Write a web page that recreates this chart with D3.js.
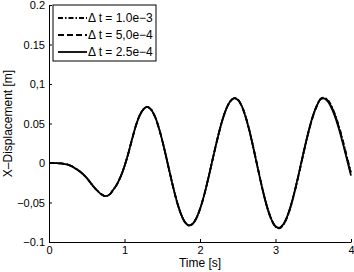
<html>
    <head>
        <meta charset="utf-8">
        <title>X-Displacement</title>
        <style type="text/css">
            body { margin: 0; background: #fff; }
            text { font-family: "Liberation Sans", Arial, Helvetica, sans-serif; fill: #000; }
        </style>
        <script src="https://d3js.org/d3.v7.min.js"></script>
    </head>
    <body>
        <svg width="354" height="272"></svg>
        <script>
        // sample times [s]
        var times = [0,0.05,0.1,0.15,0.2,0.25,0.3,0.35,0.4,0.45,0.5,0.55,0.6,0.65,0.7,0.75,0.8,0.85,0.9,0.95,
            1,1.05,1.1,1.15,1.2,1.25,1.3,1.35,1.4,1.45,1.5,1.55,1.6,1.65,1.7,1.75,1.8,1.85,1.9,1.95,
            2,2.05,2.1,2.15,2.2,2.25,2.3,2.35,2.4,2.45,2.5,2.55,2.6,2.65,2.7,2.75,2.8,2.85,2.9,2.95,
            3,3.05,3.1,3.15,3.2,3.25,3.3,3.35,3.4,3.45,3.5,3.55,3.6,3.65,3.7,3.75,3.8,3.85,3.9,3.95,4];

        // dt = 2.5e-4 (solid)
        var dispFine = [0,0,-0.0002,-0.0005,-0.001,-0.002,-0.004,-0.007,-0.010,-0.014,-0.019,-0.025,-0.031,-0.036,-0.040,-0.042,-0.040,-0.034,-0.027,-0.017,
            -0.004,0.012,0.030,0.047,0.060,0.068,0.071,0.068,0.0595,0.046,0.0286,0.0085,-0.0124,-0.0327,-0.0508,-0.065,-0.0748,-0.0789,-0.0772,-0.0702,
            -0.0583,-0.0424,-0.0234,-0.0027,0.0182,0.038,0.0554,0.069,0.078,0.0819,0.0801,0.0725,0.0595,0.0423,0.0219,0.000,-0.022,-0.0422,-0.0595,-0.0724,
            -0.080,-0.082,-0.078,-0.0688,-0.0549,-0.0372,-0.0171,0.0043,0.0253,0.0447,0.0609,0.0731,0.0810,0.0815,0.0770,0.0680,0.0555,0.0400,0.0220,0.0030,-0.016];

        // dt = 5.0e-4 (dashed)
        var dispMid = [0,0,-0.0002,-0.0005,-0.001,-0.002,-0.004,-0.007,-0.010,-0.014,-0.019,-0.025,-0.031,-0.036,-0.040,-0.042,-0.040,-0.034,-0.027,-0.017,
            -0.004,0.012,0.030,0.047,0.060,0.068,0.071,0.068,0.0595,0.046,0.0286,0.0085,-0.0124,-0.0327,-0.0508,-0.065,-0.0748,-0.0790,-0.0773,-0.0702,
            -0.0583,-0.0424,-0.0234,-0.0027,0.0182,0.038,0.0554,0.069,0.078,0.0820,0.0803,0.0728,0.0598,0.0427,0.0223,0.0005,-0.0215,-0.0418,-0.0592,-0.0723,
            -0.0805,-0.0825,-0.0785,-0.0692,-0.0553,-0.0376,-0.0176,0.0038,0.0248,0.0440,0.0605,0.0730,0.0812,0.0822,0.0782,0.0695,0.0572,0.0420,0.0242,0.0052,-0.014];

        // dt = 1.0e-3 (dash-dot)
        var dispCoarse = [0,0,-0.0002,-0.0005,-0.001,-0.002,-0.004,-0.007,-0.010,-0.014,-0.019,-0.025,-0.031,-0.036,-0.040,-0.042,-0.040,-0.034,-0.027,-0.017,
            -0.004,0.012,0.030,0.047,0.060,0.068,0.071,0.068,0.0595,0.046,0.0286,0.0085,-0.0124,-0.0327,-0.0508,-0.065,-0.0748,-0.0791,-0.0774,-0.0703,
            -0.0583,-0.0424,-0.0234,-0.0027,0.0182,0.038,0.0554,0.069,0.078,0.0821,0.0805,0.0730,0.0601,0.0430,0.0226,0.0008,-0.021,-0.0415,-0.059,-0.0722,
            -0.0808,-0.0828,-0.0790,-0.0696,-0.0557,-0.0380,-0.0180,0.0034,0.0244,0.0436,0.0602,0.0729,0.0813,0.0825,0.0790,0.0705,0.0585,0.0432,0.0255,0.0065,-0.012];

        var xTicks = [0, 1, 2, 3, 4];
        var yTicks = [-0.1, -0.05, 0, 0.05, 0.1, 0.15, 0.2];
        var yTickLabels = ["\u22120.1", "\u22120,05", "0", "0.05", "0,1", "0.15", "0.2"];
        var legendLabels = ["\u0394 t = 1.0e\u22123", "\u0394 t = 5,0e\u22124", "\u0394 t = 2.5e\u22124"];

        var series = [
            {label: legendLabels[0], values: dispCoarse, dash: "5,2,1.5,2"},
            {label: legendLabels[1], values: dispMid, dash: "6,3"},
            {label: legendLabels[2], values: dispFine, dash: null}
        ];

        var svg = d3.select("svg");
        var margin = {top: 5, right: 3, bottom: 30, left: 49},
            width = 354 - margin.left - margin.right,
            height = 272 - margin.top - margin.bottom;
        var g = svg.append("g").attr("transform", `translate(${margin.left},${margin.top})`);

        var xScale = d3.scaleLinear().domain([0, 4]).range([0, width]);
        var yScale = d3.scaleLinear().domain([-0.1, 0.2]).range([height, 0]);

        var line = d3.line()
            .x((d, i) => xScale(times[i]))
            .y(d => yScale(d))
            .curve(d3.curveCatmullRom);

        g.selectAll("path.series")
            .data(series)
            .enter()
            .append("path")
            .attr("class", "series")
            .attr("d", d => line(d.values))
            .attr("fill", "none")
            .attr("stroke", "#000")
            .attr("stroke-width", 1.8)
            .attr("stroke-dasharray", d => d.dash);

        var xAxis = g.append("g")
            .attr("transform", "translate(0," + height + ")")
            .call(d3.axisBottom(xScale).tickValues(xTicks).tickFormat(d3.format("d"))
                .tickSizeInner(-3).tickSizeOuter(0).tickPadding(4));
        var yAxis = g.append("g")
            .call(d3.axisLeft(yScale).tickValues(yTicks).tickFormat((d, i) => yTickLabels[i])
                .tickSizeInner(-3).tickSizeOuter(0).tickPadding(4));
        [xAxis, yAxis].forEach(a => {
            a.selectAll("text").style("font-size", "11px").style("font-family", null);
            a.attr("font-family", null);
        });

        // legend
        var lg = g.append("g").attr("transform", "translate(4,0)");
        lg.append("rect")
            .attr("x", 0).attr("y", 0).attr("width", 103).attr("height", 56)
            .attr("fill", "#fff").attr("stroke", "#000").attr("stroke-width", 1);
        var items = lg.selectAll("g.item")
            .data(series)
            .enter()
            .append("g")
            .attr("class", "item")
            .attr("transform", (d, i) => `translate(0,${13 + i * 17})`);
        items.append("line")
            .attr("x1", 5).attr("x2", 34)
            .attr("stroke", "#000").attr("stroke-width", 1.8)
            .attr("stroke-dasharray", d => d.dash);
        items.append("text")
            .attr("x", 35)
            .attr("dy", "0.35em")
            .style("font-size", "12px")
            .text(d => d.label);

        svg.append("text")
            .attr("x", margin.left + width / 2)
            .attr("y", 267)
            .attr("text-anchor", "middle")
            .style("font-size", "12px")
            .text("Time [s]");

        svg.append("text")
            .attr("transform", `translate(12,${margin.top + height / 2}) rotate(-90)`)
            .attr("text-anchor", "middle")
            .style("font-size", "12px")
            .text("X\u2013Displacement [m]");
        </script>
    </body>
</html>
